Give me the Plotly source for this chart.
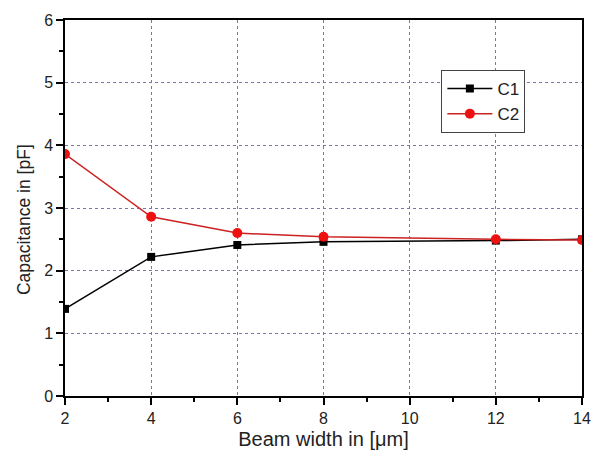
import plotly.graph_objects as go

beam_width = [2, 4, 6, 8, 12, 14]
c1 = [1.39, 2.22, 2.41, 2.46, 2.48, 2.50]
c2 = [3.86, 2.86, 2.60, 2.54, 2.50, 2.49]

fig = go.Figure()
fig.add_trace(go.Scatter(x=beam_width, y=c1, name="C1", mode="lines+markers",
                         line=dict(color="black", width=1.5),
                         marker=dict(symbol="square", size=8, color="black")))
fig.add_trace(go.Scatter(x=beam_width, y=c2, name="C2", mode="lines+markers",
                         line=dict(color="#cc2222", width=1.5),
                         marker=dict(symbol="circle", size=10, color="#ee1111")))

grid = dict(showgrid=True, gridcolor="#7777aa", griddash="dot", gridwidth=1)
fig.update_layout(
    width=603, height=459,
    margin=dict(l=65, r=20, t=15, b=59),
    paper_bgcolor="white", plot_bgcolor="white",
    font=dict(family="Liberation Sans, Arial", size=16, color="#222"),
    showlegend=True,
    legend=dict(x=0.728, y=0.867, xanchor="left", yanchor="top",
                bgcolor="white", bordercolor="#444", borderwidth=1,
                font=dict(size=17), itemwidth=45, tracegroupgap=0),
    xaxis=dict(range=[2, 14], tickvals=[2, 4, 6, 8, 10, 12, 14],
               title=dict(text="Beam width in [μm]", font=dict(size=20), standoff=6),
               showline=True, linecolor="black", linewidth=1.5, mirror=True,
               ticks="outside", ticklen=7, tickcolor="black", tickwidth=1.5,
               minor=dict(ticks="outside", dtick=1, ticklen=4, tickcolor="black", showgrid=False),
               zeroline=False, **grid),
    yaxis=dict(range=[0, 6], tickvals=[0, 1, 2, 3, 4, 5, 6],
               showline=True, linecolor="black", linewidth=1.5, mirror=True,
               ticks="outside", ticklen=7, tickcolor="black", tickwidth=1.5,
               minor=dict(ticks="outside", dtick=0.5, ticklen=4, tickcolor="black", showgrid=False),
               zeroline=False, **grid),
    annotations=[dict(text="Capacitance in [pF]", textangle=-90, showarrow=False,
                      xref="paper", yref="paper", x=0, y=0.468, xshift=-41,
                      xanchor="center", yanchor="middle",
                      font=dict(size=17.5, color="#222"))],
)
fig.write_html("out.html", config={"displayModeBar": False},
               post_script="document.body.style.margin='0';")
